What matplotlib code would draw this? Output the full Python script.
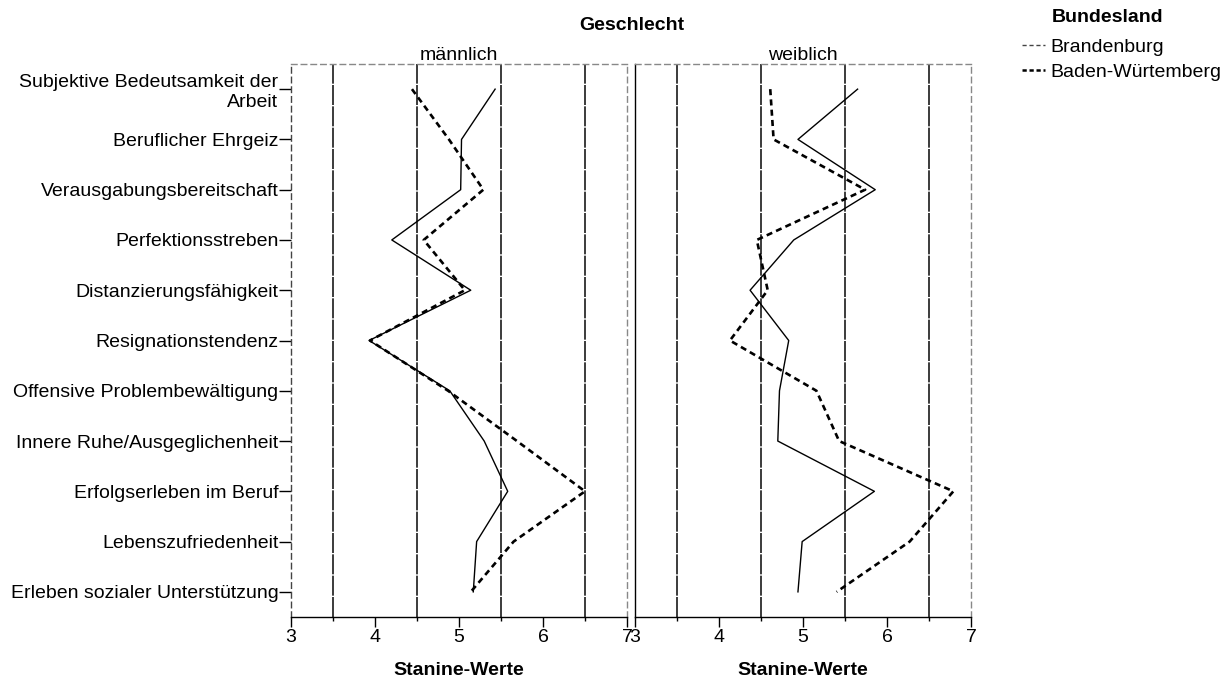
import matplotlib
matplotlib.use("Agg")
from matplotlib import pyplot as plt
from matplotlib.lines import Line2D

plt.rcParams.update({
    "font.family": ["Liberation Sans", "DejaVu Sans"],
    "figure.facecolor": "white",
    "axes.facecolor": "white",
    "savefig.facecolor": "white",
})

# skala names, top to bottom
skalen = [
    "Subjektive Bedeutsamkeit der\nArbeit",
    "Beruflicher Ehrgeiz",
    "Verausgabungsbereitschaft",
    "Perfektionsstreben",
    "Distanzierungsfähigkeit",
    "Resignationstendenz",
    "Offensive Problembewältigung",
    "Innere Ruhe/Ausgeglichenheit",
    "Erfolgserleben im Beruf",
    "Lebenszufriedenheit",
    "Erleben sozialer Unterstützung",
]
panels = ["männlich", "weiblich"]
bundeslaender = ["Brandenburg", "Baden-Würtemberg"]

# mean stanine values per skala
m_brandenburg = [5.43, 5.03, 5.02, 4.20, 5.14, 3.93, 4.89, 5.30, 5.58, 5.21, 5.17]
m_bawue = [4.44, 4.88, 5.29, 4.58, 5.07, 3.94, 4.87, 5.69, 6.50, 5.65, 5.14]
w_brandenburg = [5.65, 4.94, 5.86, 4.89, 4.37, 4.83, 4.72, 4.70, 5.85, 4.99, 4.94]
w_bawue = [4.61, 4.65, 5.74, 4.45, 4.58, 4.13, 5.16, 5.43, 6.79, 6.27, 5.40]

ref_lines = [3.5, 4.5, 5.5, 6.5]
x_ticks = [3, 4, 5, 6, 7]

FS = 14
W, H = 1226, 679
fig = plt.figure(figsize=(W / 100, H / 100), dpi=100)

def frac(x0, y0, x1, y1):
    return [x0 / W, 1 - y1 / H, (x1 - x0) / W, (y1 - y0) / H]

ax1 = fig.add_axes(frac(291, 64, 627, 617))
ax2 = fig.add_axes(frac(635, 64, 971, 617))

ypos = list(range(len(skalen)))
data = [(m_brandenburg, m_bawue), (w_brandenburg, w_bawue)]

for i, (ax, name, (bb, bw)) in enumerate(zip([ax1, ax2], panels, data)):
    ax.set_xlim(3, 7)
    ax.set_ylim(10.5, -0.5)
    for xv in ref_lines:
        ax.axvline(xv, color="#1a1a1a", lw=1.2, ls=(0, (12, 0.8)), zorder=1)
    ax.plot(bb, ypos, color="black", lw=1.0, zorder=3)
    ax.plot(bw, ypos, color="black", lw=1.9, ls=(0, (2.3, 1.6)), zorder=3)
    ax.set_xticks(x_ticks)
    ax.set_xticklabels([str(t) for t in x_ticks], fontsize=FS)
    ax.set_xticks(ref_lines, minor=True)
    ax.tick_params(axis="x", which="major", length=7, width=1, pad=2)
    ax.tick_params(axis="x", which="minor", length=3, width=1)
    ax.set_xlabel("Stanine-Werte", fontsize=FS, fontweight="bold", labelpad=11)
    ax.set_title(name, fontsize=FS, pad=0)
    for s in ["top", "left", "right"]:
        ax.spines[s].set_linestyle((0, (4, 3)))
        ax.spines[s].set_color("#888888")
        ax.spines[s].set_linewidth(1.0)
    ax.spines["bottom"].set_color("black")
    ax.spines["bottom"].set_linewidth(1.0)
    if i == 0:
        ax.spines["left"].set_color("#444444")
        ax.set_yticks(ypos)
        ax.set_yticklabels(skalen, fontsize=FS, ha="right", multialignment="right")
        ax.tick_params(axis="y", length=9, width=1, pad=0)
    else:
        ax.set_yticks([])
        ax.spines["left"].set_linestyle("-")
        ax.spines["left"].set_color("black")

fig.text(632 / W, 1 - 25 / H, "Geschlecht", ha="center", va="center",
         fontsize=FS, fontweight="bold")

# legend: title as own text, entries below
fig.text(1108 / W, 1 - 17 / H, "Bundesland", ha="center", va="center",
         fontsize=FS, fontweight="bold")
handles = [
    Line2D([], [], color="#444444", lw=1.0, ls=(0, (3, 2))),
    Line2D([], [], color="black", lw=1.8, ls=(0, (1.7, 1.1))),
]
fig.legend(handles, bundeslaender, loc="upper left",
           bbox_to_anchor=(1010 / W, 1 - 27 / H), frameon=False,
           fontsize=FS, handlelength=1.2, handletextpad=0.3,
           labelspacing=0.35, borderaxespad=0.2)

fig.savefig("out.png", dpi=100)
